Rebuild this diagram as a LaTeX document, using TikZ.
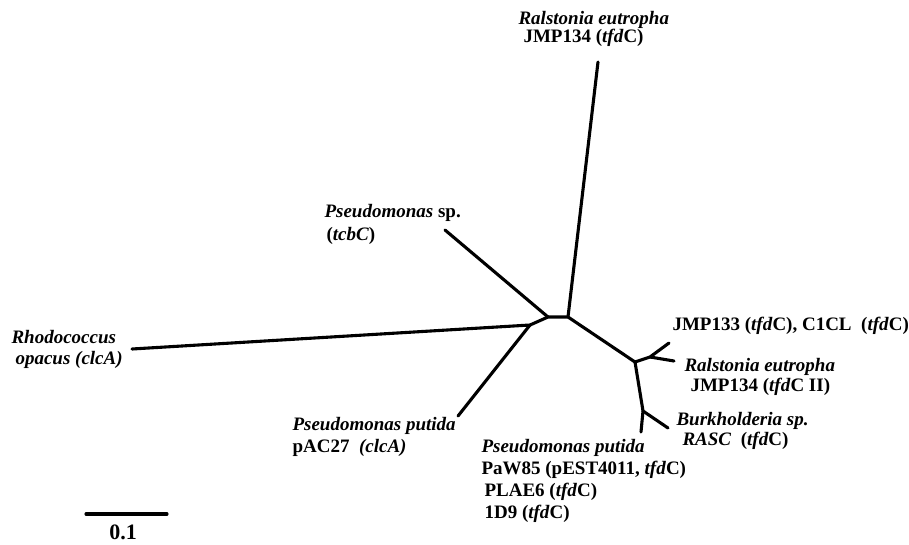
\documentclass[tikz,border=0pt]{standalone}
\usepackage{fontspec}
\setmainfont{Liberation Serif}
\begin{document}
\begin{tikzpicture}[x=1pt,y=-1pt,line width=3.1pt,line cap=round,line join=round,
	font=\fontsize{19}{21}\selectfont\bfseries,
	lab/.style={inner sep=0pt,align=left,anchor=base west}]
	\useasboundingbox (0,0) rectangle (909,544);
	% inner nodes of the tree
	\coordinate (A) at (530,325);
	\coordinate (B) at (548,317);
	\coordinate (C) at (568,317);
	\coordinate (D) at (635,362);
	\coordinate (E) at (650,357);
	\coordinate (F) at (643,411);
	% leaves
	\coordinate (rho) at (132,349);
	\coordinate (tcb) at (445,230);
	\coordinate (top) at (598,62);
	\coordinate (pac) at (458,416);
	\coordinate (j133) at (669,343);
	\coordinate (re2) at (674,361);
	\coordinate (burk) at (668,428);
	\coordinate (paw) at (641,432);
	\draw (rho)--(A)--(B)--(C)--(D)--(E)--(j133);
	\draw (A)--(pac);
	\draw (B)--(tcb);
	\draw (C)--(top);
	\draw (E)--(re2);
	\draw (D)--(F)--(burk);
	\draw (F)--(paw);
	% labels (placed at the baseline of their last line)
	\node[lab] (Lrho) at (10,364) {\textit{Rhodococcus}\\\hspace{4pt}\textit{opacus (clcA)}};
	\node[lab] (Ltcb) at (323,240) {\textit{Pseudomonas} sp.\\[2pt]\hspace{2pt}(\textit{tcbC})};
	\node[lab] (Ltop) at (517,42) {\textit{Ralstonia eutropha}\\[-3pt]\hspace{5pt}JMP134 (\textit{tfd}C)};
	\node[lab] (Lpac) at (291,452) {\textit{Pseudomonas putida}\\[1pt]pAC27\ \ \textit{(clcA)}};
	\node[lab] (Lpaw) at (480,518) {\textit{Pseudomonas putida}\\[1pt]PaW85 (pEST4011, \textit{tfd}C)\\[1pt]\hspace{3pt}PLAE6 (\textit{tfd}C)\\[1pt]\hspace{3pt}1D9 (\textit{tfd}C)};
	\node[lab] (Lj133) at (671,330) {JMP133 (\textit{tfd}C), C1CL\ \ (\textit{tfd}C)};
	\node[lab] (Lre2) at (683,391) {\textit{Ralstonia eutropha}\\[-1pt]\hspace{6pt}JMP134 (\textit{tfd}C II)};
	\node[lab] (Lburk) at (675,445) {\textit{Burkholderia sp.}\\[-1pt]\hspace{6pt}\textit{RASC}\ \ (\textit{tfd}C)};
	% scale bar
	\coordinate (s0) at (86,514);
	\coordinate (s1) at (167,514);
	\draw (s0)--(s1);
	\node[inner sep=0pt,anchor=base,font=\fontsize{22}{24}\selectfont\bfseries] (Lscale) at (123,539) {0.1};
\end{tikzpicture}
\end{document}
